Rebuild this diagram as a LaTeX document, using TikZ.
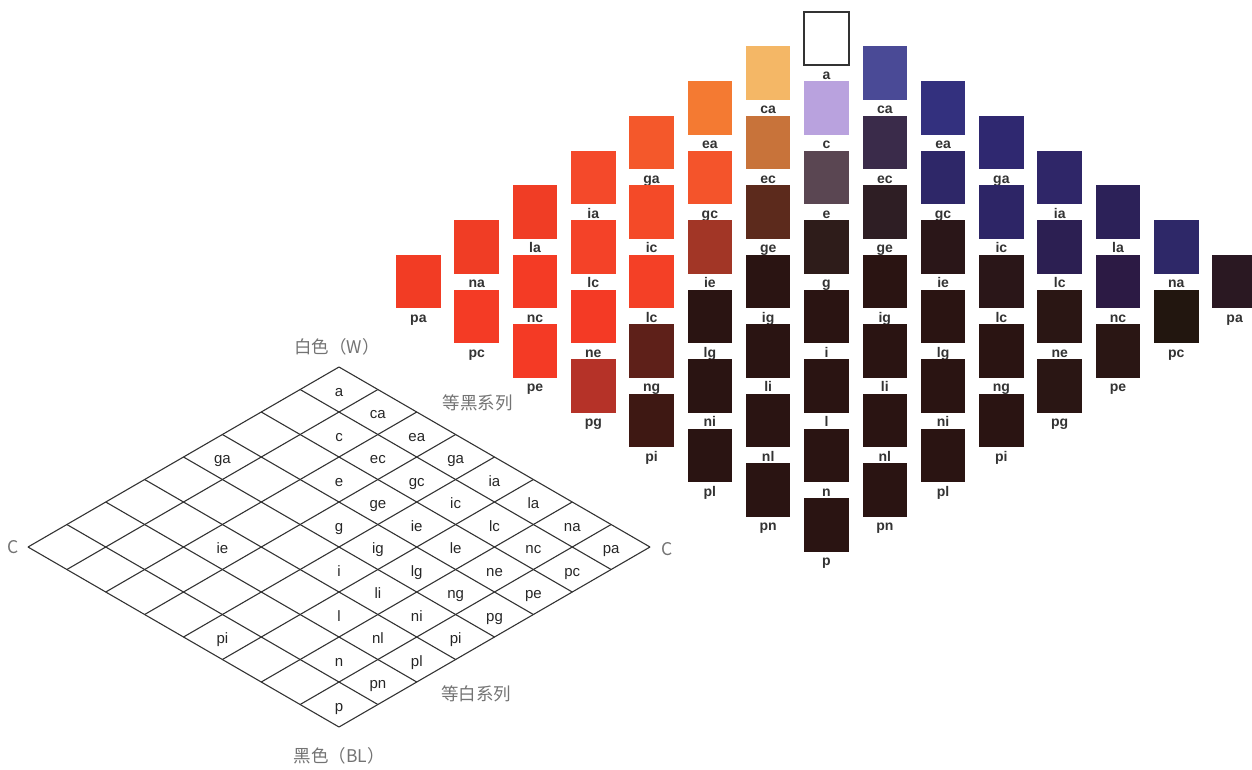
\documentclass[tikz,border=0pt]{standalone}
\usepackage{fontspec}
\setmainfont{Liberation Sans}
\newfontfamily\cjk{Noto Sans CJK SC}
\usetikzlibrary{positioning}
\definecolor{Dk}{HTML}{2A1412}
\definecolor{Mc}{HTML}{B9A2DE}
\definecolor{Me}{HTML}{5A4652}
\definecolor{Mg}{HTML}{2E1C1A}
\definecolor{Rca}{HTML}{F4B766}
\definecolor{Rec}{HTML}{C8733A}
\definecolor{Rge}{HTML}{5C2A1C}
\definecolor{Rea}{HTML}{F47A32}
\definecolor{Rgc}{HTML}{F4542B}
\definecolor{Rie}{HTML}{A23626}
\definecolor{Rga}{HTML}{F4582B}
\definecolor{Ric}{HTML}{F44A28}
\definecolor{Rle}{HTML}{F44026}
\definecolor{Rng}{HTML}{5E2019}
\definecolor{Rpi}{HTML}{3E1813}
\definecolor{Ria}{HTML}{F4492A}
\definecolor{Rlc}{HTML}{F44228}
\definecolor{Rne}{HTML}{F43A25}
\definecolor{Rpg}{HTML}{B53228}
\definecolor{Rla}{HTML}{F03D25}
\definecolor{Rnc}{HTML}{F43B25}
\definecolor{Rpe}{HTML}{F43A25}
\definecolor{Rna}{HTML}{F03D25}
\definecolor{Rpc}{HTML}{F43B25}
\definecolor{Rpa}{HTML}{F23C24}
\definecolor{Bca}{HTML}{4A4A96}
\definecolor{Bec}{HTML}{3A2B4A}
\definecolor{Bge}{HTML}{2E1E24}
\definecolor{Bea}{HTML}{33307E}
\definecolor{Bgc}{HTML}{2E2768}
\definecolor{Bie}{HTML}{2A1618}
\definecolor{Bga}{HTML}{2F2870}
\definecolor{Bic}{HTML}{2D2566}
\definecolor{Ble}{HTML}{2A1618}
\definecolor{Bia}{HTML}{2F2668}
\definecolor{Blc}{HTML}{2C1F52}
\definecolor{Bne}{HTML}{2A1614}
\definecolor{Bla}{HTML}{2C2158}
\definecolor{Bnc}{HTML}{2C1A44}
\definecolor{Bna}{HTML}{2E2868}
\definecolor{Bpc}{HTML}{22160F}
\definecolor{Bpa}{HTML}{2A1822}
\newcommand\ostw[1]{\ifcase#1 a\or c\or e\or g\or i\or l\or n\or p\fi}

\begin{document}
\begin{tikzpicture}[x=1pt,y=-1pt,sw/.style={minimum width=44.5pt,minimum height=53.5pt,inner sep=0pt,outer sep=0pt},tag/.style={anchor=base,inner sep=0pt,text=black!80,font=\bfseries\fontsize{14}{14}\selectfont},cell/.style={anchor=base,inner sep=0pt,text=black!85,font=\fontsize{15}{15}\selectfont},gridline/.style={draw=black!80,line width=1.1pt},note/.style={inner sep=0pt,text=black!55,font=\cjk\fontsize{17.5}{17.5}\selectfont}]
\useasboundingbox (0,0) rectangle (1252,769);
\foreach \t/\c [count=\r from 0] in {a/white,c/Mc,e/Me,g/Mg,i/Dk,l/Dk,n/Dk,p/Dk}{
  \node[sw,fill=\c] (M-\r) at (826.5,{38.45+69.5*\r}) {};
  \node[tag] at ([yshift=-14pt]M-\r.south) {\t};}
\draw[line width=1.6pt,draw=black!80] (M-0.south west) rectangle (M-0.north east);
\foreach \k/\cols in {1/{ca/Rca,ec/Rec,ge/Rge,ig/Dk,li/Dk,nl/Dk,pn/Dk},2/{ea/Rea,gc/Rgc,ie/Rie,lg/Dk,ni/Dk,pl/Dk},3/{ga/Rga,ic/Ric,lc/Rle,ng/Rng,pi/Rpi},4/{ia/Ria,lc/Rlc,ne/Rne,pg/Rpg},5/{la/Rla,nc/Rnc,pe/Rpe},6/{na/Rna,pc/Rpc},7/{pa/Rpa}}{
  \foreach \t/\c [count=\r from 0] in \cols {
    \node[sw,fill=\c] (L\k-\r) at ({826.5-58.3*\k},{38.45+34.75*\k+69.5*\r}) {};
    \node[tag] at ([yshift=-14pt]L\k-\r.south) {\t};}}
\foreach \k/\cols in {1/{ca/Bca,ec/Bec,ge/Bge,ig/Dk,li/Dk,nl/Dk,pn/Dk},2/{ea/Bea,gc/Bgc,ie/Bie,lg/Dk,ni/Dk,pl/Dk},3/{ga/Bga,ic/Bic,lc/Ble,ng/Dk,pi/Dk},4/{ia/Bia,lc/Blc,ne/Bne,pg/Bne},5/{la/Bla,nc/Bnc,pe/Bne},6/{na/Bna,pc/Bpc},7/{pa/Bpa}}{
  \foreach \t/\c [count=\r from 0] in \cols {
    \node[sw,fill=\c] (R\k-\r) at ({826.5+58.3*\k},{38.45+34.75*\k+69.5*\r}) {};
    \node[tag] at ([yshift=-14pt]R\k-\r.south) {\t};}}
\foreach \i in {0,...,8}{
  \draw[gridline] ({339+38.875*\i},{367+22.5*\i}) -- ({339+38.875*(\i-8)},{367+22.5*(\i+8)});
  \draw[gridline] ({339-38.875*\i},{367+22.5*\i}) -- ({339+38.875*(8-\i)},{367+22.5*(\i+8)});}
\foreach \i in {0,...,7}{\foreach \j in {0,...,\i}{
  \node[cell] (g\i\j) at ({339+38.875*(\i-\j)},{373.5+22.5*(\i+\j+1)}) {\ifnum\i=\j\relax\ostw\i\else\ostw\i\ostw\j\fi};}}
\node[cell] (gL1) at (222.4,463.5) {ga};
\node[cell] (gL2) at (222.4,553.5) {ie};
\node[cell] (gL3) at (222.4,643.5) {pi};
\node[note] (W) at (337,346.5) {白色（W）};
\node[note] (BL) at (339,756) {黑色（BL）};
\node[note] (eqB) at (477.5,402.5) {等黑系列};
\node[note] (eqW) at (476,694) {等白系列};
\node[note] (CL) at (13.5,547) {C};
\node[note] (CR) at (667.5,549) {C};
\end{tikzpicture}
\end{document}
